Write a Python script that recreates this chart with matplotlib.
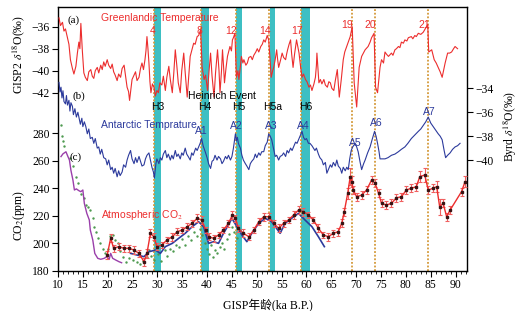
import matplotlib
matplotlib.use('Agg')
import matplotlib.pyplot as plt
import matplotlib.transforms as mtransforms
from matplotlib.ticker import MultipleLocator

plt.rcParams['font.family'] = ['Liberation Serif', 'Noto Sans CJK SC']
plt.rcParams['mathtext.fontset'] = 'stix'
plt.rcParams['axes.unicode_minus'] = True

# ---------------- data ----------------
gisp_age = [10.2, 10.5, 10.9, 11.2, 11.5, 11.9, 12.2, 12.5, 12.9, 13.2, 13.6, 13.9, 14.2, 14.4, 14.6, 14.9,
            15.2, 15.5, 15.9, 16.2, 16.6, 16.9, 17.2, 17.5, 17.9, 18.2, 18.6, 18.9, 19.2, 19.5, 19.9, 20.2,
            20.6, 20.9, 21.2, 21.5, 21.9, 22.2, 22.6, 22.9, 23.3, 23.6, 23.9, 24.2, 24.4, 24.7, 24.9, 25.3,
            25.6, 25.9, 26.3, 26.6, 26.9, 27.2, 27.5, 27.7, 27.9, 28.1, 28.3, 28.5, 28.7, 29.0, 29.3, 29.6,
            29.9, 30.2, 30.5, 30.9, 31.2, 31.6, 31.9, 32.3, 32.6, 33.0, 33.3, 33.6, 33.9, 34.2, 34.6, 34.9,
            35.3, 35.6, 36.0, 36.3, 36.6, 37.0, 37.3, 37.6, 38.0, 38.3, 38.7,
            39.0, 39.4, 39.7, 40.1, 40.4, 40.7, 41.0, 41.4, 41.7, 42.1, 42.4, 42.6, 42.9, 43.1, 43.3, 43.5,
            43.8, 44.1, 44.6, 44.9, 45.1, 45.3, 45.6, 45.9, 46.2, 46.4, 46.7, 46.9, 47.2, 47.4, 47.8, 48.1,
            48.4, 48.8, 49.1, 49.4, 49.8, 50.1, 50.4, 50.8, 51.1, 51.4, 51.7, 52.1, 52.4, 52.6, 52.9, 53.2,
            53.4, 53.7, 54.0, 54.2, 54.4, 54.8, 55.1, 55.4, 55.8, 56.0, 56.2, 56.5, 56.8, 57.0, 57.3, 57.6,
            58.0, 58.3, 58.5, 58.8, 59.1, 59.4, 59.8, 60.1, 60.5, 60.8, 61.1, 61.5, 61.8, 62.0, 62.1, 62.3,
            62.5, 62.8, 63.1, 63.5, 63.8, 64.2, 64.5, 64.8, 65.1, 65.5, 65.8, 66.2, 66.6, 67.0, 67.4, 67.7,
            68.1, 68.4, 68.8, 69.2, 69.6, 70.1, 70.6, 71.1, 71.8, 72.4, 72.8, 73.1, 73.6, 73.9, 74.3, 74.8,
            75.1, 75.5, 75.8, 76.1, 76.5, 77.1, 77.4, 77.8, 78.1, 78.5, 78.8, 79.1, 79.5, 79.8, 80.2, 80.5,
            81.1, 81.4, 81.8, 82.1, 82.5, 83.0, 83.5, 84.0, 84.4, 84.6, 85.2, 85.7, 86.1, 86.5, 86.9, 87.3,
            87.9, 88.4, 88.8, 89.2, 89.6, 89.9, 90.4]
gisp_d18o = [-35.2, -35.9, -35.6, -36.4, -36.2, -37.0, -37.6, -39.0, -39.8, -40.3, -39.6, -38.4, -37.4, -38.0, -35.7, -38.2,
             -40.2, -40.6, -40.9, -40.1, -39.9, -40.5, -40.7, -40.0, -39.7, -40.2, -39.5, -39.9, -39.2, -39.6, -39.0, -39.5,
             -39.8, -39.4, -40.1, -40.4, -40.9, -40.3, -40.6, -39.8, -39.5, -40.5, -41.5, -41.9, -42.7, -41.6, -40.8, -40.4,
             -40.1, -40.9, -40.6, -39.8, -39.3, -39.9, -39.0, -38.2, -36.9, -38.0, -39.3, -41.0, -42.0, -41.2, -41.5, -42.3,
             -41.8, -42.0, -41.1, -41.3, -40.5, -41.8, -40.6, -39.6, -40.8, -42.0, -40.2, -38.1, -39.5, -41.1, -42.0, -40.0,
             -38.4, -40.2, -42.4, -40.5, -38.7, -38.0, -37.5, -37.6, -36.9, -36.8, -36.3,
             -39.7, -40.8, -40.4, -41.8, -40.0, -38.4, -40.5, -42.4, -40.2, -38.1, -40.0, -42.0, -40.0, -38.1, -39.5, -41.1,
             -39.8, -38.7, -37.8, -38.2, -37.2, -37.0, -36.6, -40.6, -40.0, -40.8, -39.6, -38.7, -39.3, -39.0, -39.5, -39.3,
             -38.8, -38.7, -39.0, -38.6, -38.3, -38.0, -38.3, -37.8, -37.6, -37.2, -37.4, -36.8, -37.2, -38.5, -40.6, -40.0,
             -39.7, -39.0, -38.1, -39.0, -39.7, -39.0, -38.4, -38.8, -39.0, -38.5, -38.1, -37.6, -37.2, -38.4, -39.7, -38.5,
             -37.2, -37.9, -38.4, -39.6, -40.6, -40.3, -40.8, -41.0, -41.5, -41.3, -41.8, -41.2, -40.6, -39.5, -38.4, -39.8,
             -41.1, -40.8, -41.2, -40.8, -41.3, -41.5, -41.0, -41.1, -41.6, -41.8, -40.9, -39.9, -42.4, -40.8, -39.0, -38.3,
             -37.8, -37.4, -36.9, -36.0, -41.1, -43.3, -39.7, -38.7, -38.1, -37.8, -37.4, -37.0, -36.6, -41.5, -42.0, -39.7,
             -39.0, -39.3, -38.3, -38.5, -38.7, -38.4, -38.6, -38.1, -38.0, -37.8, -37.9, -37.4, -37.5, -37.2, -37.3, -37.0,
             -36.9, -37.1, -36.8, -36.9, -36.6, -36.7, -36.5, -36.1, -35.8, -38.3, -38.1, -39.0, -39.3, -39.7, -40.1, -40.6,
             -39.3, -38.4, -38.4, -38.3, -38.0, -37.8, -38.0]

byrd_age = [10.2, 10.4, 10.6, 10.8, 11.0, 11.2, 11.5, 11.7, 11.9, 12.2, 12.4, 12.6, 12.9, 13.1, 13.4, 13.7,
            14.0, 14.2, 14.5, 14.8, 15.0, 15.3, 15.6, 15.9, 16.2, 16.5, 16.9, 17.2, 17.5, 17.9, 18.2, 18.5,
            18.8, 19.2, 19.6, 19.9, 20.2, 20.6, 20.9, 21.2, 21.5, 21.9, 22.2, 22.5, 22.9, 23.2, 23.6, 23.9,
            24.2, 24.6, 24.9, 25.3, 25.6, 25.9, 26.3, 26.6, 26.9, 27.3, 27.6, 27.9, 28.3, 28.6, 28.9, 29.2,
            29.4, 29.7, 29.9, 30.3, 30.6, 30.9, 31.2, 31.6, 31.9, 32.2, 32.6, 32.9, 33.2, 33.6, 33.9, 34.2,
            34.6, 34.9, 35.2, 35.6, 35.9, 36.2, 36.6, 36.9, 37.2, 37.7, 38.0, 38.3, 38.6, 38.9, 39.2, 39.7,
            40.0, 40.3, 40.7, 41.0, 41.3, 41.6, 42.0, 42.3, 42.7, 43.0, 43.3, 43.7, 44.0, 44.3, 44.7, 45.0,
            45.3, 45.7, 45.9, 46.1, 46.3, 46.7, 47.0, 47.3, 47.7, 48.0, 48.4, 48.7, 49.0, 49.4, 49.7, 50.0,
            50.4, 50.7, 51.0, 51.4, 51.7, 52.1, 52.4, 52.7, 53.0, 53.3, 53.7, 54.0, 54.4, 54.7, 55.1, 55.4,
            55.8, 56.1, 56.4, 56.8, 57.1, 57.4, 57.8, 58.1, 58.4, 58.8, 59.1, 59.4, 59.7, 60.0, 60.4, 60.7,
            61.1, 61.4, 61.7, 62.0, 62.4, 62.7, 63.1, 63.4, 63.8, 64.1, 64.4, 64.8, 65.1, 65.4, 65.8, 66.1,
            66.4, 66.8, 67.1, 67.4, 67.8, 68.1, 68.4, 68.7, 69.0, 69.3, 69.8, 70.1, 70.4, 70.8, 71.1, 71.5,
            71.8, 72.3, 72.8, 73.2, 73.7, 74.0, 74.3, 74.6, 74.8, 75.3, 75.8, 76.4, 77.1, 77.8, 78.5, 79.1,
            79.8, 80.4, 81.1, 81.8, 82.5, 83.0, 83.5, 84.0, 84.5, 85.0, 85.5, 86.0, 86.5, 86.9, 87.3, 87.7,
            88.0, 88.4, 88.9, 89.4, 89.9, 90.4, 90.9]
byrd_d18o = [-33.5, -34.3, -33.9, -34.8, -34.2, -35.1, -35.3, -34.6, -35.4, -35.0, -35.9, -35.2, -35.5, -36.2, -35.7, -36.4,
             -36.0, -36.4, -37.0, -36.5, -37.2, -36.8, -37.2, -37.8, -37.4, -38.2, -38.1, -38.6, -38.2, -39.0, -38.9, -39.5,
             -39.1, -39.8, -39.9, -40.4, -40.0, -40.8, -40.6, -41.1, -40.7, -41.4, -40.9, -41.3, -41.0, -40.4, -40.6, -40.0,
             -39.6, -39.2, -39.9, -40.3, -39.8, -40.2, -39.7, -40.1, -40.5, -40.4, -39.9, -39.6, -39.4, -40.0, -40.6, -41.0,
             -41.5, -40.3, -39.9, -40.3, -39.8, -40.0, -39.5, -39.2, -39.8, -39.5, -40.0, -39.6, -39.9, -39.2, -39.7, -39.5,
             -39.9, -39.4, -39.6, -39.0, -39.5, -39.7, -40.0, -39.4, -39.6, -39.0, -39.2, -38.9, -38.6, -38.2, -38.8, -39.4,
             -39.8, -40.3, -40.7, -40.1, -40.0, -39.6, -40.0, -39.7, -39.9, -40.3, -40.1, -39.7, -39.9, -39.6, -40.0, -39.7,
             -39.0, -37.8, -38.4, -38.1, -38.6, -39.0, -39.6, -40.0, -40.3, -40.5, -40.8, -40.3, -40.1, -39.9, -39.5, -39.8,
             -39.4, -39.6, -39.3, -39.3, -38.8, -38.5, -37.8, -38.0, -38.3, -38.9, -39.7, -39.6, -40.0, -39.7, -39.6, -39.4,
             -39.7, -39.2, -39.4, -39.0, -39.2, -38.9, -38.5, -38.6, -38.3, -37.9, -37.6, -38.1, -38.3, -38.2, -38.6, -38.6,
             -38.8, -39.0, -39.2, -39.0, -39.5, -39.8, -40.0, -40.4, -40.2, -41.1, -40.8, -40.4, -40.6, -40.2, -40.5, -40.0,
             -40.5, -40.7, -41.1, -40.6, -40.9, -40.6, -40.8, -39.9, -39.2, -38.9, -38.6, -38.9, -39.3, -40.2, -40.8, -40.3,
             -40.0, -39.4, -38.9, -38.3, -37.6, -38.0, -38.6, -39.3, -39.9, -39.9, -39.9, -39.8, -39.6, -39.5, -39.3, -39.1,
             -38.9, -38.6, -38.2, -37.9, -37.6, -37.4, -37.1, -36.8, -36.4, -36.9, -37.2, -37.5, -37.8, -38.0, -38.3, -39.2,
             -39.8, -39.6, -39.4, -39.1, -38.9, -38.8, -38.6]

co2_age = [19.9, 20.6, 21.2, 22.2, 23.3, 24.3, 25.3, 26.3, 27.3, 27.9, 28.6, 29.3, 29.9, 30.9, 31.9, 33.0,
           34.0, 35.0, 36.0, 37.0, 38.0, 38.9, 39.7, 40.3, 41.3, 42.3, 43.3, 44.3, 45.1, 45.7, 46.3, 47.3,
           48.4, 49.4, 50.4, 51.4, 52.4, 53.4, 54.4, 55.4, 56.4, 57.4, 58.4, 59.4, 60.4, 61.4, 62.4, 63.4,
           64.4, 65.4, 66.4, 67.1, 67.6, 68.3, 68.8, 69.1, 69.4, 70.1, 71.1, 72.1, 73.1, 73.8, 74.5, 75.1,
           76.1, 77.1, 78.1, 79.1, 80.1, 81.1, 82.1, 82.8, 83.8, 84.5, 85.5, 86.2, 86.8, 87.5, 88.2, 88.9,
           91.2, 91.9]
co2_ppm = [191.4, 203.6, 196.3, 197.5, 196.3, 196.3, 195.0, 192.6, 186.5, 192.6, 207.2, 204.7, 197.5, 198.7, 202.3, 204.7,
           208.4, 209.6, 212.0, 214.5, 218.1, 216.9, 209.6, 204.7, 203.6, 206.0, 209.6, 214.5, 220.5, 218.1, 210.8, 207.2,
           204.7, 209.6, 215.6, 219.3, 219.3, 214.5, 210.8, 214.5, 216.9, 220.5, 224.1, 222.9, 220.5, 216.9, 210.8, 206.0,
           204.7, 207.2, 208.4, 214.5, 222.9, 236.3, 248.4, 244.7, 238.7, 233.8, 235.0, 238.7, 246.0, 243.6, 236.3, 229.0,
           227.8, 229.0, 233.0, 233.8, 238.7, 240.0, 241.1, 248.4, 249.6, 238.7, 240.0, 241.1, 226.5, 229.0, 219.3, 224.1,
           237.5, 244.7]
co2_err = [3, 3, 2.5, 2.5, 2.5, 2.5, 3, 2.5, 3, 3, 3, 2.5, 2.5, 2.5, 2.5, 3,
           2.5, 2.5, 2.5, 2.5, 3, 3, 2.5, 2.5, 2.5, 2.5, 2.5, 2.5, 3, 2.5, 2.5, 3,
           2.5, 2.5, 2.5, 3, 2.5, 2.5, 3, 2.5, 2.5, 3, 3, 3, 2.5, 2.5, 3, 2.5,
           3, 2.5, 3, 3, 3, 4, 6, 4, 3, 3, 3, 3, 3, 3, 3, 3,
           3, 3, 3, 3, 3, 3, 3, 4, 5, 3, 3, 4, 6, 3, 3, 3,
           3, 4]

co2b_age = [24.6, 25.9, 27.3, 28.3, 29.6, 30.6, 31.6, 33.0, 34.3, 35.6, 37.0, 38.3, 39.3, 40.3, 41.3, 42.3,
            43.3, 44.3, 45.0, 46.0, 47.0, 48.0, 49.0, 50.4, 51.7, 53.0, 54.7, 55.7, 57.0, 58.4, 59.7, 61.1,
            62.4, 63.6]
co2b_ppm = [192.6, 191.4, 190.2, 193.8, 195.0, 192.6, 197.5, 199.9, 203.6, 207.2, 212.0, 215.6, 212.0, 199.9, 201.1, 199.9,
            207.2, 213.3, 218.1, 212.0, 206.0, 201.1, 207.2, 214.5, 218.1, 215.6, 207.2, 214.5, 218.1, 221.7, 216.9, 212.0,
            204.7, 197.5]

purple_age = [10.6, 11.0, 11.6, 12.0, 12.3, 12.6, 13.0, 13.3, 13.7, 14.0, 14.3, 14.6, 15.0, 15.3, 15.8, 16.3,
              16.5, 17.0, 17.4, 18.0, 18.6, 19.3, 19.8, 20.3, 20.6, 21.0, 21.6, 22.3, 22.8]
purple_ppm = [263.0, 265.0, 266.5, 263.0, 260.5, 253.0, 246.0, 238.7, 239.5, 238.7, 238.0, 237.5, 238.7, 229.0, 221.7, 216.9,
              209.6, 202.3, 192.6, 189.0, 188.3, 189.0, 190.2, 188.3, 192.6, 189.0, 187.8, 186.5, 185.8]

green_age = [10.6, 10.9, 11.0, 11.2, 12.5, 13.0, 13.6, 14.0, 14.7, 15.3, 15.7, 16.0, 16.5, 17.0, 17.3, 17.6,
             18.0, 18.5, 19.0, 19.5, 20.0, 20.5, 21.0, 21.5, 22.0, 22.5, 23.0, 23.6, 24.2, 25.0, 25.8, 26.5,
             27.2, 28.0, 28.4, 28.8, 29.4, 30.2, 30.8, 31.5, 32.0, 32.6, 33.2, 33.8, 34.3, 35.0, 35.5, 36.2,
             36.8, 37.4, 38.0, 38.5, 39.0, 39.5, 40.0, 40.4, 40.8, 41.2, 41.6, 42.0, 42.5, 43.0, 43.5, 44.0,
             44.5, 45.0, 45.5, 46.0]
green_ppm = [286, 278, 274, 271, 262, 256, 248, 244, 236, 233, 228, 226, 224, 218, 212, 208,
             204, 200, 196, 193, 196, 205, 206, 202, 200, 194, 190, 186, 189, 188, 186, 185,
             187, 190, 195, 191, 188, 192, 187, 195, 191, 196, 194, 199, 197, 203, 199, 205,
             202, 208, 205, 210, 206, 200, 196, 192, 199, 190, 195, 193, 197, 200, 196, 203,
             207, 212, 208, 204]

do_ages = [29.4, 38.8, 45.8, 52.5, 58.9, 69.1, 73.7, 84.5]
do_labels = ['4', '8', '12', '14', '17', '19', '20', '21']
h_start = [29.4, 38.8, 45.8, 52.6, 58.9]
h_end = [30.7, 40.4, 47.1, 53.7, 60.7]
h_labels = ['H3', 'H4', 'H5', 'H5a', 'H6']
a_ages = [38.9, 45.8, 52.9, 59.4, 69.9, 74.0, 84.7]
a_labels = ['A1', 'A2', 'A3', 'A4', 'A5', 'A6', 'A7']
x_ticks = [10, 15, 20, 25, 30, 35, 40, 45, 50, 55, 60, 65, 70, 75, 80, 85, 90]
co2_ticks = [180, 200, 220, 240, 260, 280]
gisp_ticks = [-42, -40, -38, -36]
byrd_ticks = [-40, -38, -36, -34]

# ---------------- colours ----------------
RED = '#EC2D2D'
BLUE = '#2C3A9C'
CYAN = '#3DBFC3'
GOLD = '#D49A3A'
PURPLE = '#9A3FAA'
GREEN = '#4E9A50'
SANS = ['Liberation Sans', 'DejaVu Sans']

fig = plt.figure(figsize=(5.22, 3.11), dpi=100)
fig.patch.set_facecolor('white')
ax = fig.add_axes([58 / 522, 1 - 270.7 / 311, (467 - 58) / 522, (270.7 - 7) / 311])
ax.set_xlim(10, 92.3)
ax.set_ylim(180, 371.8)

# Heinrich bars and DO lines
for s, e in zip(h_start, h_end):
    ax.axvspan(s, e, color=CYAN, lw=0, zorder=0.5)
for a in do_ages:
    ax.axvline(a, color=GOLD, ls=(0, (1, 1)), lw=1.3, zorder=0.8)

# CO2 panel
ax.scatter(green_age, green_ppm, s=3, color=GREEN, lw=0, zorder=1)
ax.plot(purple_age, purple_ppm, color=PURPLE, lw=1.0, zorder=2)
ax.plot(co2b_age, co2b_ppm, color=BLUE, lw=1.2, zorder=2)
ax.errorbar(co2_age, co2_ppm, yerr=co2_err, color=RED, lw=1.0, ecolor='#F06060',
            elinewidth=0.8, capsize=1.6, capthick=0.8, marker='s', ms=2.0,
            mfc='#3a1414', mec='#3a1414', zorder=3)

ax.set_xticks(x_ticks)
ax.xaxis.set_minor_locator(MultipleLocator(1))
ax.set_yticks(co2_ticks)
ax.yaxis.tick_left()
ax.xaxis.tick_bottom()
ax.tick_params(axis='both', which='major', direction='out', length=4, width=0.8, labelsize=8.4, pad=2)
ax.tick_params(axis='x', which='minor', direction='out', length=2, width=0.6)
for sp in ax.spines.values():
    sp.set_linewidth(1.0)
ax.set_ylabel(r'CO$_2$(ppm)', fontsize=8.5)
ax.yaxis.set_label_coords(-0.076, 0.211)
ax.set_xlabel('GISP年龄(ka B.P.)', fontsize=8.5)
ax.xaxis.set_label_coords(0.513, -0.107)

# GISP2 panel
axg = ax.twinx()
axg.set_ylim(-58.18, -34.21)
axg.plot(gisp_age, gisp_d18o, color=RED, lw=0.8)
axg.yaxis.tick_left()
axg.yaxis.set_label_position('left')
axg.set_yticks(gisp_ticks)
axg.tick_params(axis='y', direction='out', length=4, width=0.8, labelsize=8.4, pad=2)
axg.set_ylabel(r'GISP2 $\delta^{18}$O(‰)', fontsize=8.5)
axg.yaxis.set_label_coords(-0.076, 0.818)
for sp in axg.spines.values():
    sp.set_visible(False)

# Byrd panel
axb = ax.twinx()
axb.set_ylim(-49.26, -27.19)
axb.plot(byrd_age, byrd_d18o, color=BLUE, lw=0.8)
axb.set_yticks(byrd_ticks)
axb.tick_params(axis='y', direction='out', length=4, width=0.8, labelsize=8.4, pad=2)
axb.set_ylabel(r'Byrd $\delta^{18}$O(‰)', fontsize=8.5, rotation=90)
axb.yaxis.set_label_coords(1.086, 0.547)
for sp in axb.spines.values():
    sp.set_visible(False)

trans = mtransforms.blended_transform_factory(ax.transData, ax.transAxes)

for a, lab, yf in zip(do_ages, do_labels, [0.909] * 5 + [0.932] * 3):
    axb.text(a + 0.3, yf, lab, transform=trans, color=RED, fontsize=7.5, family=SANS,
             ha='right', va='center')
for s, e, lab in zip(h_start, h_end, h_labels):
    axb.text((s + e) / 2, 0.619, lab, transform=trans, color='black', fontsize=7.5,
             family=SANS, ha='center', va='center')
for a, lab, yf in zip(a_ages, a_labels, [0.528, 0.549, 0.549, 0.549, 0.483, 0.559, 0.603]):
    axb.text(a, yf, lab, transform=trans, color=BLUE, fontsize=7.5, family=SANS,
             ha='center', va='center')

axb.text(0.5 * (h_start[1] + h_end[2]), 0.662, 'Heinrich Event', transform=trans, fontsize=7.5,
         family=SANS, ha='center', va='center')
axb.text(0.104, 0.960, 'Greenlandic Temperature', transform=ax.transAxes, color=RED,
         fontsize=7.5, family=SANS, ha='left', va='center')
axb.text(0.105, 0.554, 'Antarctic Temprature', transform=ax.transAxes, color=BLUE,
         fontsize=7.5, family=SANS, ha='left', va='center')
axb.text(0.105, 0.211, r'Atmospheric CO$_2$', transform=ax.transAxes, color=RED,
         fontsize=7.5, family=SANS, ha='left', va='center')
axb.text(0.037, 0.951, '(a)', transform=ax.transAxes, fontsize=8, ha='center', va='center')
axb.text(0.051, 0.662, '(b)', transform=ax.transAxes, fontsize=8, ha='center', va='center')
axb.text(0.043, 0.429, '(c)', transform=ax.transAxes, fontsize=8, ha='center', va='center')

fig.savefig('out.png', dpi=100)
